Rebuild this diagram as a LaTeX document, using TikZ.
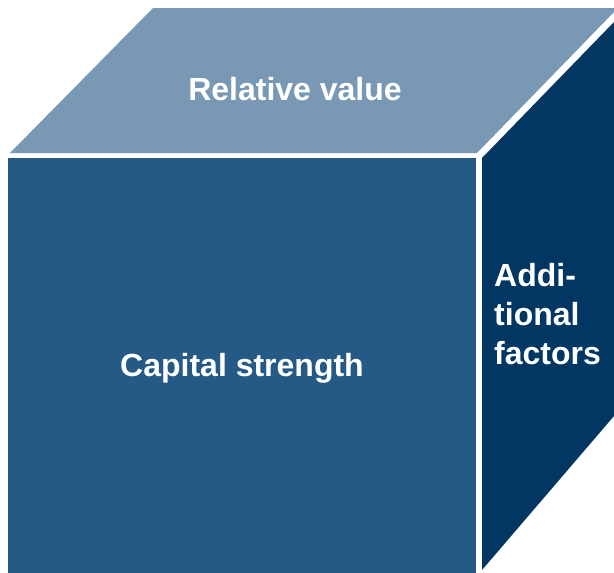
\documentclass[tikz,border=0pt]{standalone}
\usepackage{fontspec}
\setmainfont{Liberation Sans}
\begin{document}
\begin{tikzpicture}[x=1pt,y=-1pt,
  face/.style={draw=none},
  label/.style={text=white,font=\bfseries\fontsize{32}{39}\selectfont,inner sep=0pt}]
\definecolor{topblue}{RGB}{120,152,180}
\definecolor{frontblue}{RGB}{37,90,134}
\definecolor{sideblue}{RGB}{2,55,100}
\useasboundingbox (0,0) rectangle (614,573);
% top face
\fill[face,topblue] (10,153) -- (153,8) -- (614,8) -- (614,12) -- (477,153) -- cycle;
% front face
\fill[face,frontblue] (8,158) rectangle (476,573);
% right face
\fill[face,sideblue] (482,158) -- (614,22) -- (614,416) -- (482,570) -- cycle;
% labels
\node[label,anchor=base] (top) at (295,100) {Relative value};
\node[label,anchor=base] (front) at (242,376) {Capital strength};
% multi-line node: its base anchor sits on the last line
\node[label,anchor=base west,align=left] (side) at (494,364) {Addi-\\tional\\factors};
\end{tikzpicture}
\end{document}
